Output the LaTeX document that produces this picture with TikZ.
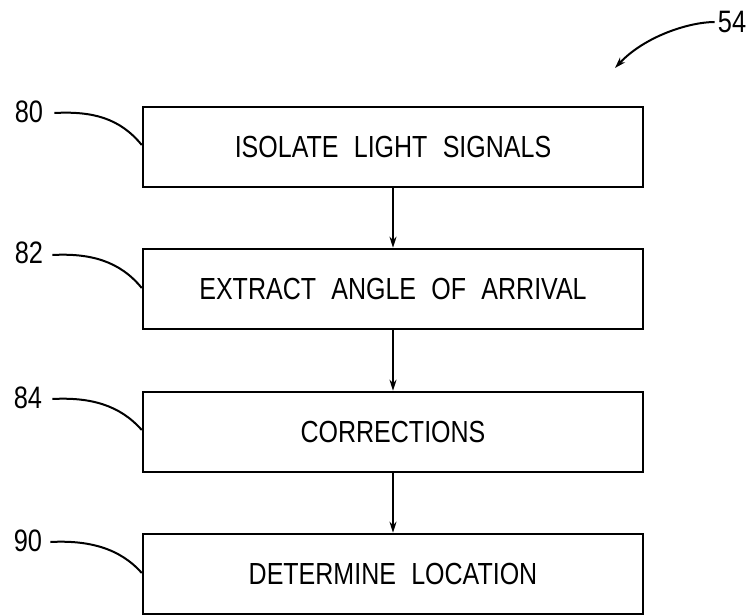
\documentclass[tikz,border=0pt]{standalone}
\usepackage{fontspec}
\newfontfamily\patfont[FakeStretch=0.82,WordSpace=2.2]{Liberation Sans}
\usetikzlibrary{arrows.meta}
\begin{document}
\begin{tikzpicture}[x=1pt,y=-1pt,
  stepbox/.style={draw, line width=2.5pt, minimum width=500pt, minimum height=80pt,
    inner sep=0pt, font=\patfont\fontsize{30.5}{36}\selectfont},
  reflabel/.style={font=\patfont\fontsize{31}{36}\selectfont, inner sep=0pt},
  flow/.style={line width=2.2pt, -{Stealth[length=11pt,width=7pt]}},
  leader/.style={line width=2pt},
]
\useasboundingbox (0,0) rectangle (749,615);

% process steps
\node[stepbox] (b1) at (393,147) {ISOLATE LIGHT SIGNALS};
\node[stepbox] (b2) at (393,289) {EXTRACT ANGLE OF ARRIVAL};
\node[stepbox] (b3) at (393,432) {CORRECTIONS};
\node[stepbox] (b4) at (393,574) {DETERMINE LOCATION};

% flow between steps
\draw[flow] (b1.south) -- (b2.north);
\draw[flow] (b2.south) -- (b3.north);
\draw[flow] (b3.south) -- (b4.north);

% reference numerals with leader lines
\node[reflabel] (l80) at (29,112) {80};
\node[reflabel] (l82) at (29,253) {82};
\node[reflabel] (l84) at (28,398) {84};
\node[reflabel] (l90) at (28,541) {90};

\draw[leader] ([xshift=11pt,yshift=-1pt]l80.east) .. controls +(38,-2) and +(-22,-27) .. ([yshift=2pt]b1.west);
\draw[leader] ([xshift=9pt,yshift=-2pt]l82.east) .. controls +(38,-2) and +(-22,-27) .. ([yshift=1pt]b2.west);
\draw[leader] ([xshift=10pt,yshift=-1pt]l84.east) .. controls +(38,-2) and +(-22,-25) .. ([yshift=2pt]b3.west);
\draw[leader] ([xshift=8pt,yshift=-1pt]l90.east) .. controls +(38,-2) and +(-22,-25) .. ([yshift=1pt]b4.west);

% figure numeral
\node[reflabel] (l54) at (732,22) {54};
\coordinate (t54) at (615,68);
\draw[leader, -{Stealth[length=11pt,width=7pt]}] ([xshift=-3pt]l54.west) .. controls +(-25,0) and +(30,-32) .. (t54);
\end{tikzpicture}
\end{document}
